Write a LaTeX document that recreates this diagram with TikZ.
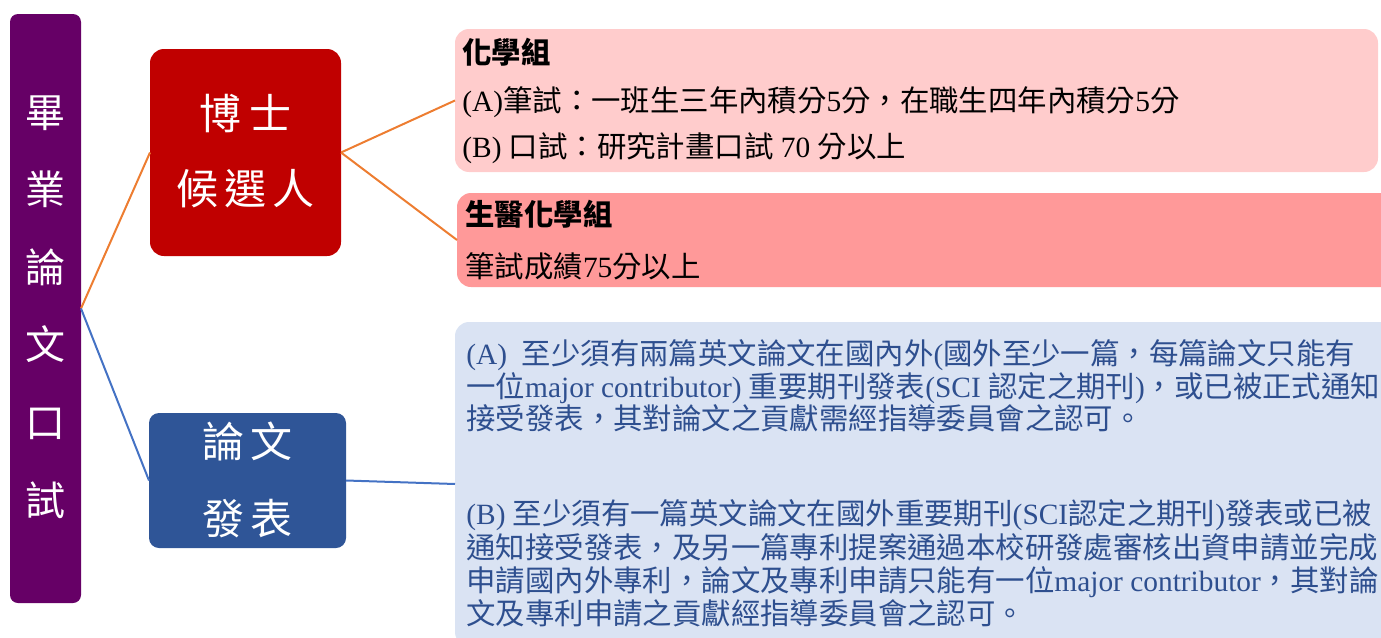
\documentclass[tikz,border=0pt]{standalone}
\usepackage{fontspec}
\setmainfont{Liberation Serif}
\newfontfamily\cjk{Noto Sans CJK TC}
\newfontfamily\latfont{Liberation Serif}
\newcommand\lat[1]{{\latfont #1}}
\usetikzlibrary{fit}
\definecolor{cpurple}{HTML}{660066}
\definecolor{cred}{HTML}{C00000}
\definecolor{cblue}{HTML}{2F5597}
\definecolor{cpink}{HTML}{FFCCCC}
\definecolor{csalmon}{HTML}{FF9999}
\definecolor{clight}{HTML}{DAE3F3}
\definecolor{corange}{HTML}{ED7D31}
\definecolor{cbline}{HTML}{4472C4}
\definecolor{ctext}{HTML}{2E4F8F}
\begin{document}
\begin{tikzpicture}[x=0.5pt,y=-0.5pt,
  boxx/.style={inner sep=0pt, outer sep=0pt, rounded corners=7pt, draw=none},
  bigtxt/.style={white, font=\cjk\fontsize{21}{25}\selectfont, anchor=base, inner sep=0pt},
  vtxt/.style={white, font=\cjk\fontsize{20}{24}\selectfont, anchor=base, inner sep=0pt},
  rtxt/.style={black, font=\cjk\fontsize{14.7}{17}\selectfont, anchor=base west, inner sep=0pt},
  btxt/.style={ctext, font=\cjk\fontsize{14.7}{17}\selectfont, anchor=base west, inner sep=0pt},
  oline/.style={corange, line width=1pt},
  bline/.style={cbline, line width=1pt}]
\useasboundingbox (0,0) rectangle (1381,637);
\clip (0,0) rectangle (1381,637);
% boxes
\node[boxx, fill=cpurple, rounded corners=4pt, fit={(10,14) (81,603)}] (root) {};
\node[boxx, fill=cred, fit={(150,49) (341,256)}] (phd) {};
\node[boxx, fill=cblue, rounded corners=5pt, fit={(149,413) (346,548)}] (paper) {};
\node[boxx, fill=cpink, fit={(455,29) (1378,172)}] (pinka) {};
\node[boxx, fill=csalmon, fit={(457,193) (1395,287)}] (pinkb) {};
\node[boxx, fill=clight, fit={(455,322) (1395,646)}] (bluebox) {};
% connectors
\draw[oline] (root.east) -- (phd.west);
\draw[bline] (root.east) -- (paper.west);
\draw[oline] (phd.east) -- (pinka.west);
\draw[oline] (phd.east) -- (pinkb.west);
\draw[bline] (paper.east) -- (bluebox.west);
% vertical title
\foreach \c [count=\i] in {畢,業,論,文,口,試}
  \node[vtxt] (v\i) at (45.5, 127+77.6*\i-77.6) {\c};
% left boxes text
\node[bigtxt] (phd1) at (245.5,129) {博\hspace{4pt}士};
\node[bigtxt] (phd2) at (245.5,204) {候\hspace{3pt}選\hspace{3pt}人};
\node[bigtxt] (pap1) at (247.5,457) {論\hspace{3pt}文};
\node[bigtxt] (pap2) at (247.5,534) {發\hspace{3pt}表};
% pink box 1
\node[rtxt] (a0) at (462,63) {\bfseries 化學組};
\node[rtxt] (a1) at (462,111) {\lat{(A)}筆試：一班生三年內積分\lat{5}分，在職生四年內積分\lat{5}分};
\node[rtxt] (a2) at (462,157) {\lat{(B) }口試：研究計畫口試\lat{ 70 }分以上};
% pink box 2
\node[rtxt] (b0) at (465,225) {\bfseries 生醫化學組};
\node[rtxt] (b1) at (465,277) {筆試成績\lat{75}分以上};
% blue box
\node[btxt] (c1) at (466,364) {\lat{(A)\ \ }至少須有兩篇英文論文在國內外\lat{(}國外至少一篇，每篇論文只能有};
\node[btxt] (c2) at (466,397) {一位\lat{major contributor) }重要期刊發表\lat{(SCI }認定之期刊\lat{)}，或已被正式通知};
\node[btxt] (c3) at (466,429) {接受發表，其對論文之貢獻需經指導委員會之認可。};
\node[btxt] (c4) at (466,524) {\lat{(B) }至少須有一篇英文論文在國外重要期刊\lat{(SCI}認定之期刊\lat{)}發表或已被};
\node[btxt] (c5) at (466,558) {通知接受發表，及另一篇專利提案通過本校研發處審核出資申請並完成};
\node[btxt] (c6) at (466,591) {申請國內外專利，論文及專利申請只能有一位\lat{major contributor}，其對論};
\node[btxt] (c7) at (466,624) {文及專利申請之貢獻經指導委員會之認可。};
\end{tikzpicture}
\end{document}
